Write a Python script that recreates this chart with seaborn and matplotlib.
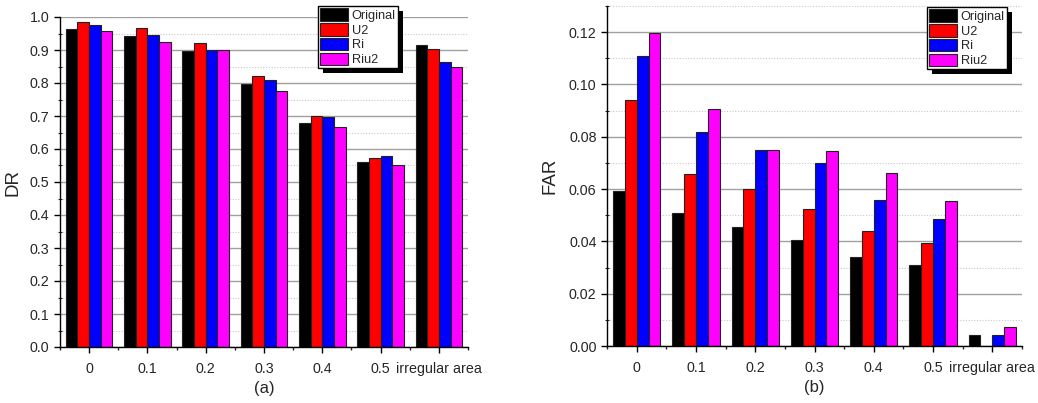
import numpy as np
import pandas as pd
import matplotlib
matplotlib.use("Agg")
import matplotlib.pyplot as plt
import seaborn as sns
from matplotlib.ticker import MultipleLocator, FormatStrFormatter, FixedLocator
from matplotlib.patches import Rectangle
from matplotlib.transforms import IdentityTransform

categories = ["0", "0.1", "0.2", "0.3", "0.4", "0.5", "irregular area"]
methods = ["Original", "U2", "Ri", "Riu2"]
colors = ["#000000", "#ff0000", "#0000ff", "#ff00ff"]

dr_original = [0.965, 0.943, 0.896, 0.797, 0.680, 0.560, 0.916]
dr_u2 = [0.986, 0.967, 0.921, 0.820, 0.701, 0.572, 0.902]
dr_ri = [0.975, 0.945, 0.901, 0.808, 0.698, 0.578, 0.865]
dr_riu2 = [0.958, 0.925, 0.901, 0.776, 0.667, 0.550, 0.848]

far_original = [0.0591, 0.0510, 0.0455, 0.0405, 0.0340, 0.0309, 0.0041]
far_u2 = [0.0942, 0.0657, 0.0600, 0.0524, 0.0440, 0.0395, 0.0]
far_ri = [0.1108, 0.0820, 0.0750, 0.0698, 0.0558, 0.0487, 0.0041]
far_riu2 = [0.1197, 0.0906, 0.0750, 0.0747, 0.0663, 0.0555, 0.0073]


def long_df(series):
    rows = []
    for m, vals in zip(methods, series):
        for c, v in zip(categories, vals):
            rows.append({"cat": c, "method": m, "value": v})
    return pd.DataFrame(rows)


dr_df = long_df([dr_original, dr_u2, dr_ri, dr_riu2])
far_df = long_df([far_original, far_u2, far_ri, far_riu2])

sns.set_style("ticks")
plt.rcParams["font.family"] = ["Liberation Sans", "DejaVu Sans"]

W, H = 1038, 403
fig = plt.figure(figsize=(W / 100, H / 100), dpi=100)
ax1 = fig.add_axes([60 / W, 1 - 347 / H, 408 / W, 330 / H])
ax2 = fig.add_axes([607 / W, 1 - 346 / H, 415 / W, 340 / H])


def style(ax, df, ylim, major, minor, fmt, ylabel, xlabel, leg_xy):
    sns.barplot(data=df, x="cat", y="value", hue="method", order=categories,
                hue_order=methods, palette=colors, width=0.8, ax=ax,
                edgecolor="#222222", linewidth=0.8, saturation=1, errorbar=None)
    ax.set_xlim(-0.5, len(categories) - 0.5)
    ax.set_ylim(*ylim)
    ax.yaxis.set_major_locator(MultipleLocator(major))
    ax.yaxis.set_minor_locator(MultipleLocator(minor))
    ax.yaxis.set_major_formatter(FormatStrFormatter(fmt))
    ax.xaxis.set_minor_locator(FixedLocator(np.arange(-0.5, len(categories), 1.0)))
    ax.set_axisbelow(True)
    ax.grid(axis="y", which="major", color="#a0a0a0", linewidth=1.0, linestyle="-")
    ax.grid(axis="y", which="minor", color="#c8c8c8", linewidth=0.8, linestyle=(0, (1, 1.5)))
    for s in ["top", "right"]:
        ax.spines[s].set_visible(False)
    for s in ["left", "bottom"]:
        ax.spines[s].set_color("black")
        ax.spines[s].set_linewidth(1.0)
    ax.tick_params(axis="both", which="major", direction="out", length=4.5,
                   width=1.0, color="black", labelsize=10.3, pad=3)
    ax.tick_params(axis="y", which="minor", direction="inout", length=3, width=0.8)
    ax.tick_params(axis="x", which="minor", direction="out", length=2.5, width=1.0)
    ax.tick_params(axis="x", which="major", pad=6)
    ax.set_ylabel(ylabel, fontsize=13.5)
    ax.set_xlabel(xlabel, fontsize=12, labelpad=4)
    handles, labels = ax.get_legend_handles_labels()
    if ax.get_legend() is not None:
        ax.get_legend().remove()
    leg = ax.legend(handles, labels, loc="upper left",
                    bbox_to_anchor=(leg_xy[0] / W, 1 - leg_xy[1] / H),
                    bbox_transform=fig.transFigure, borderaxespad=0,
                    fontsize=9.2, frameon=True, fancybox=False, shadow=False,
                    handlelength=2.2, handleheight=1.15, handletextpad=0.3,
                    labelspacing=0.1, borderpad=0.15)
    leg.get_frame().set_edgecolor("black")
    leg.get_frame().set_linewidth(1.0)
    leg.get_frame().set_alpha(1)
    leg.set_zorder(10)
    return leg


leg1 = style(ax1, dr_df, (0, 1.0), 0.1, 0.05, "%.1f", "DR", "(a)", (318, 6))
leg2 = style(ax2, far_df, (0, 0.13), 0.02, 0.01, "%.2f", "FAR", "(b)", (927, 7))
ax1.yaxis.set_label_coords(-0.095, 0.5)
ax2.yaxis.set_label_coords(-0.117, 0.5)

fig.canvas.draw()
for ax, leg in [(ax1, leg1), (ax2, leg2)]:
    bb = leg.get_window_extent()
    shadow = Rectangle((bb.x0 + 5, bb.y0 - 5), bb.width, bb.height,
                       facecolor="black", edgecolor="none",
                       transform=IdentityTransform(), clip_on=False, zorder=9)
    ax.add_artist(shadow)

fig.savefig("out.png", dpi=100)
